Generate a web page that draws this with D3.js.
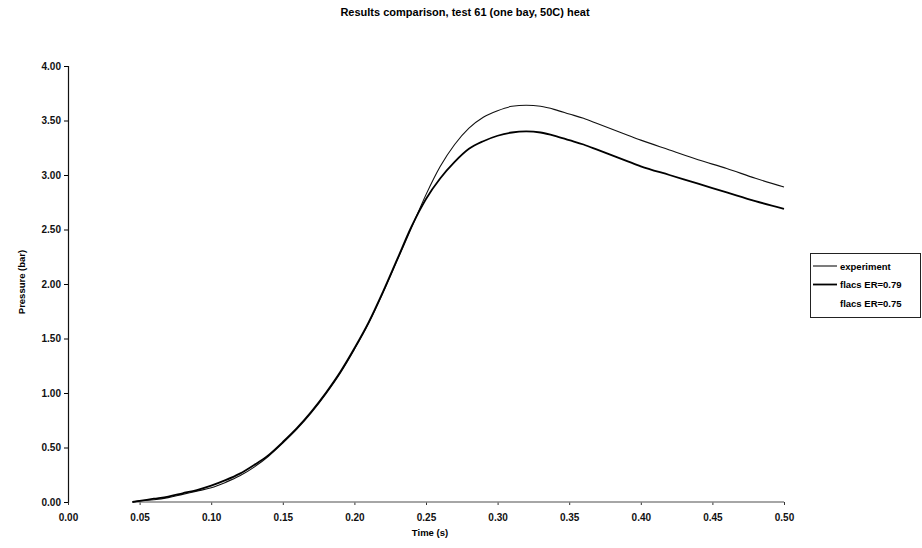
<!DOCTYPE html>
<html>
<head>
<meta charset="utf-8">
<script src="https://cdn.jsdelivr.net/npm/d3@7"></script>
<style>
  html, body { margin: 0; padding: 0; background: #fff; }
  svg { display: block; font-family: "Liberation Sans", Arial, sans-serif; }
</style>
</head>
<body>
<svg id="chart" width="922" height="548"></svg>
<script>
// Time samples (s)
const timeExp = [0.045,0.05,0.06,0.07,0.08,0.09,0.10,0.11,0.12,0.13,0.14,0.15,0.16,0.17,0.18,0.19,0.20,0.21,0.22,0.23,0.24,0.25,0.26,0.27,0.28,0.29,0.30,0.31,0.32,0.33,0.34,0.35,0.36,0.37,0.38,0.39,0.40,0.42,0.44,0.46,0.48,0.50];
// Measured pressure (bar)
const experiment = [0.00,0.01,0.02,0.04,0.07,0.10,0.13,0.18,0.24,0.32,0.42,0.54,0.67,0.82,0.99,1.18,1.40,1.64,1.92,2.22,2.52,2.82,3.08,3.28,3.43,3.53,3.59,3.63,3.64,3.63,3.60,3.56,3.52,3.47,3.42,3.37,3.32,3.23,3.14,3.06,2.97,2.89];
// FLACS simulation, ER = 0.79
const flacs079 = [0.00,0.01,0.03,0.05,0.08,0.11,0.15,0.20,0.26,0.34,0.43,0.55,0.68,0.83,1.00,1.19,1.41,1.65,1.93,2.23,2.53,2.78,2.97,3.12,3.24,3.31,3.36,3.39,3.40,3.39,3.36,3.32,3.28,3.23,3.18,3.13,3.08,3.00,2.92,2.84,2.76,2.69];
// FLACS simulation, ER = 0.75 (stays at the baseline)
const time075 = [0.045,0.10,0.15,0.20,0.25,0.30,0.35,0.40,0.45,0.50];
const flacs075 = [0.00,0.00,0.00,0.00,0.00,0.00,0.00,0.00,0.00,0.00];

const xTicks = [0,0.05,0.10,0.15,0.20,0.25,0.30,0.35,0.40,0.45,0.50];
const yTicks = [0,0.5,1,1.5,2,2.5,3,3.5,4];
const seriesNames = ["experiment", "flacs ER=0.79", "flacs ER=0.75"];

const svg = d3.select("#chart");
const x = d3.scaleLinear().domain([0, 0.5]).range([68, 784]);
const y = d3.scaleLinear().domain([0, 4]).range([502, 66]);

// Title
svg.append("text")
  .attr("x", 465).attr("y", 16)
  .attr("text-anchor", "middle")
  .attr("font-size", 11).attr("font-weight", "bold")
  .text("Results comparison, test 61 (one bay, 50C) heat");

// Y axis
const yAxis = svg.append("g")
  .attr("transform", `translate(${x(0)},0)`)
  .call(d3.axisLeft(y).tickValues(yTicks).tickFormat(d3.format(".2f")).tickSize(4).tickPadding(3));
yAxis.select(".domain").attr("stroke", "#111").attr("stroke-width", 1.2);
yAxis.selectAll("text").attr("font-size", 10).attr("font-weight", "bold").attr("fill", "#111")
  .attr("font-family", "Liberation Sans, Arial, sans-serif");

// X axis (labels and small ticks; the baseline is drawn by the ER=0.75 series)
const xAxis = svg.append("g")
  .attr("transform", `translate(0,${y(0)})`)
  .call(d3.axisBottom(x).tickValues(xTicks).tickFormat(d3.format(".2f")).tickSize(3).tickPadding(9));
xAxis.select(".domain").remove();
xAxis.selectAll("line").attr("stroke", "#333");
xAxis.selectAll("text").attr("font-size", 10).attr("font-weight", "bold").attr("fill", "#111")
  .attr("font-family", "Liberation Sans, Arial, sans-serif");

// Axis titles
svg.append("text")
  .attr("x", 430).attr("y", 536)
  .attr("text-anchor", "middle")
  .attr("font-size", 9.5).attr("font-weight", "bold")
  .text("Time (s)");
svg.append("text")
  .attr("transform", "translate(25,282) rotate(-90)")
  .attr("text-anchor", "middle")
  .attr("font-size", 9.5).attr("font-weight", "bold")
  .text("Pressure (bar)");

const line = d3.line().x(d => x(d[0])).y(d => y(d[1])).curve(d3.curveMonotoneX);

const series = [
  { name: seriesNames[2], t: time075, v: flacs075, color: "#888", width: 1.6 },
  { name: seriesNames[0], t: timeExp, v: experiment, color: "#111", width: 1.1 },
  { name: seriesNames[1], t: timeExp, v: flacs079, color: "#000", width: 1.8 }
];

svg.append("g").selectAll("path")
  .data(series)
  .join("path")
  .attr("fill", "none")
  .attr("stroke", d => d.color)
  .attr("stroke-width", d => d.width)
  .attr("stroke-linejoin", "round")
  .attr("d", d => line(d.t.map((t, i) => [t, d.v[i]])));

// Legend
const legend = svg.append("g").attr("transform", "translate(810,253)");
legend.append("rect")
  .attr("x", 0.5).attr("y", 0.5).attr("width", 110).attr("height", 64)
  .attr("fill", "#fff").attr("stroke", "#222").attr("stroke-width", 1);
const legendItems = [
  { name: seriesNames[0], color: "#111", width: 1.1 },
  { name: seriesNames[1], color: "#000", width: 1.8 },
  { name: seriesNames[2], color: "#fff", width: 1.6 }
];
legendItems.forEach((d, i) => {
  const yy = 13 + i * 18.5;
  legend.append("line")
    .attr("x1", 3).attr("x2", 27).attr("y1", yy).attr("y2", yy)
    .attr("stroke", d.color).attr("stroke-width", d.width);
  legend.append("text")
    .attr("x", 30).attr("y", yy + 3.5)
    .attr("font-size", 9.5).attr("font-weight", "bold")
    .text(d.name);
});
</script>
</body>
</html>
